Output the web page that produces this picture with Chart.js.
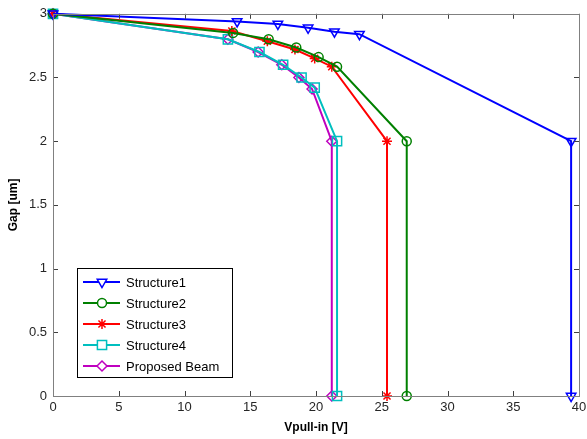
<!DOCTYPE html>
<html lang="en">
<head>
    <meta charset="UTF-8">
    <title>Gap vs Vpull-in</title>
    <script src="https://cdn.jsdelivr.net/npm/chart.js"></script>
    <style>
        html, body {
            margin: 0;
            padding: 0;
            background: white;
        }
        #chart {
            width: 587px;
            height: 439px;
        }
    </style>
</head>
<body>
<div id="chart">
    <canvas id="gapChart" width="587" height="439"></canvas>
</div>
<script>
    // pull-in voltage (V) and gap (um) for each structure
    const seriesNames = ['Structure1', 'Structure2', 'Structure3', 'Structure4', 'Proposed Beam'];

    const s1Volt = [0, 14.0, 17.1, 19.4, 21.4, 23.3, 39.4, 39.4];
    const s1Gap  = [3, 2.94, 2.92, 2.89, 2.86, 2.84, 2.0, 0];

    const s2Volt = [0, 13.7, 16.4, 18.5, 20.2, 21.6, 26.9, 26.9];
    const s2Gap  = [3, 2.85, 2.80, 2.735, 2.66, 2.585, 2.0, 0];

    const s3Volt = [0, 13.6, 16.3, 18.4, 19.9, 21.2, 25.4, 25.4];
    const s3Gap  = [3, 2.865, 2.785, 2.72, 2.65, 2.585, 2.0, 0];

    const s4Volt = [0, 13.3, 15.7, 17.5, 18.9, 19.9, 21.6, 21.6];
    const s4Gap  = [3, 2.8, 2.7, 2.6, 2.5, 2.42, 2.0, 0];

    const pbVolt = [0, 13.3, 15.6, 17.4, 18.7, 19.7, 21.2, 21.2];
    const pbGap  = [3, 2.8, 2.7, 2.6, 2.5, 2.41, 2.0, 0];

    const xTicks = [0, 5, 10, 15, 20, 25, 30, 35, 40];
    const yTicks = [0, 0.5, 1, 1.5, 2, 2.5, 3];

    function pairs(xs, ys) {
        return xs.map((x, i) => ({ x: x, y: ys[i] }));
    }

    const styles = [
        { color: '#0000ff', point: 'triangle', rot: 180, r: 5.5, fill: 'rgba(255,255,255,0)' },
        { color: '#008000', point: 'circle', rot: 0, r: 4.5, fill: 'rgba(255,255,255,0)' },
        { color: '#ff0000', point: 'star', rot: 0, r: 5, fill: '#ff0000' },
        { color: '#00bfbf', point: 'rect', rot: 0, r: 6.5, fill: 'rgba(255,255,255,0)' },
        { color: '#bf00bf', point: 'rectRot', rot: 0, r: 5, fill: 'rgba(255,255,255,0)' }
    ];

    const allData = [
        pairs(s1Volt, s1Gap),
        pairs(s2Volt, s2Gap),
        pairs(s3Volt, s3Gap),
        pairs(s4Volt, s4Gap),
        pairs(pbVolt, pbGap)
    ];

    const datasets = allData.map((d, i) => ({
        label: seriesNames[i],
        data: d,
        showLine: true,
        borderColor: styles[i].color,
        borderWidth: 2,
        pointStyle: styles[i].point,
        pointRotation: styles[i].rot,
        pointRadius: styles[i].r,
        pointBorderWidth: 1.5,
        pointBorderColor: styles[i].color,
        pointBackgroundColor: styles[i].fill,
        clip: false,
        tension: 0
    }));

    const axisColor = '#404040';

    // inward ticks on all four sides plus the box outline
    const boxTicks = {
        id: 'boxTicks',
        afterDatasetsDraw(chart) {
            const ctx = chart.ctx;
            const a = chart.chartArea;
            const xs = chart.scales.x, ys = chart.scales.y;
            ctx.save();
            ctx.strokeStyle = axisColor;
            ctx.lineWidth = 1;
            ctx.beginPath();
            xTicks.forEach(v => {
                const px = Math.round(xs.getPixelForValue(v)) + 0.5;
                ctx.moveTo(px, a.bottom); ctx.lineTo(px, a.bottom - 5);
                ctx.moveTo(px, a.top); ctx.lineTo(px, a.top + 5);
            });
            yTicks.forEach(v => {
                const py = Math.round(ys.getPixelForValue(v)) + 0.5;
                ctx.moveTo(a.left, py); ctx.lineTo(a.left + 5, py);
                ctx.moveTo(a.right, py); ctx.lineTo(a.right - 5, py);
            });
            ctx.stroke();
            ctx.strokeStyle = '#808080';
            ctx.strokeRect(Math.round(a.left) + 0.5, Math.round(a.top) + 0.5,
                Math.round(a.right - a.left), Math.round(a.bottom - a.top));
            ctx.restore();
        }
    };

    // legend box in the lower left of the plot
    const boxLegend = {
        id: 'boxLegend',
        afterDraw(chart) {
            const ctx = chart.ctx;
            const a = chart.chartArea;
            const left = a.left + 24, top = a.bottom - 128;
            const w = 155, h = 109;
            ctx.save();
            ctx.fillStyle = 'white';
            ctx.fillRect(left, top, w, h);
            ctx.strokeStyle = '#000';
            ctx.lineWidth = 1;
            ctx.strokeRect(left + 0.5, top + 0.5, w, h);
            ctx.font = '13px Arial, "Liberation Sans", sans-serif';
            ctx.textBaseline = 'middle';
            datasets.forEach((ds, i) => {
                const y = top + 14 + i * 21;
                ctx.strokeStyle = ds.borderColor;
                ctx.lineWidth = 2;
                ctx.beginPath();
                ctx.moveTo(left + 6, y);
                ctx.lineTo(left + 43, y);
                ctx.stroke();
                ctx.lineWidth = ds.pointBorderWidth;
                ctx.fillStyle = ds.pointBackgroundColor === styles[i].color ? ds.pointBackgroundColor : 'white';
                Chart.helpers.drawPoint(ctx, {
                    pointStyle: ds.pointStyle,
                    rotation: ds.pointRotation,
                    radius: ds.pointRadius,
                    borderWidth: ds.pointBorderWidth
                }, left + 25, y);
                ctx.fillStyle = '#000';
                ctx.fillText(ds.label, left + 49, y + 1);
            });
            ctx.restore();
        }
    };

    const tickFont = { family: 'Arial, "Liberation Sans", sans-serif', size: 13 };
    const titleFont = { family: 'Arial, "Liberation Sans", sans-serif', size: 12, weight: 'bold' };

    new Chart(document.getElementById('gapChart'), {
        type: 'scatter',
        data: { datasets: datasets },
        options: {
            responsive: false,
            animation: false,
            layout: { padding: { top: 13, right: 0, left: 0, bottom: 0 } },
            plugins: {
                legend: { display: false },
                tooltip: { enabled: false }
            },
            scales: {
                x: {
                    type: 'linear',
                    min: 0,
                    max: 40,
                    afterBuildTicks: s => { s.ticks = xTicks.map(v => ({ value: v })); },
                    afterFit: s => { s.height = 43; s.paddingRight = 7; },
                    grid: { display: false, drawTicks: false },
                    border: { display: false },
                    ticks: { font: tickFont, color: '#262626', padding: 4, maxRotation: 0,
                             callback: v => String(v) },
                    title: {
                        display: true,
                        text: 'Vpull-in [V]',
                        font: titleFont,
                        color: '#000',
                        padding: { top: 0, bottom: 4 }
                    }
                },
                y: {
                    type: 'linear',
                    min: 0,
                    max: 3,
                    afterBuildTicks: s => { s.ticks = yTicks.map(v => ({ value: v })); },
                    afterFit: s => { s.width = 53; },
                    grid: { display: false, drawTicks: false },
                    border: { display: false },
                    ticks: { font: tickFont, color: '#262626', padding: 6,
                             callback: v => String(v) },
                    title: {
                        display: true,
                        text: 'Gap [um]',
                        font: titleFont,
                        color: '#000',
                        padding: { top: 6, bottom: 0 }
                    }
                }
            }
        },
        plugins: [boxTicks, boxLegend]
    });
</script>
</body>
</html>
